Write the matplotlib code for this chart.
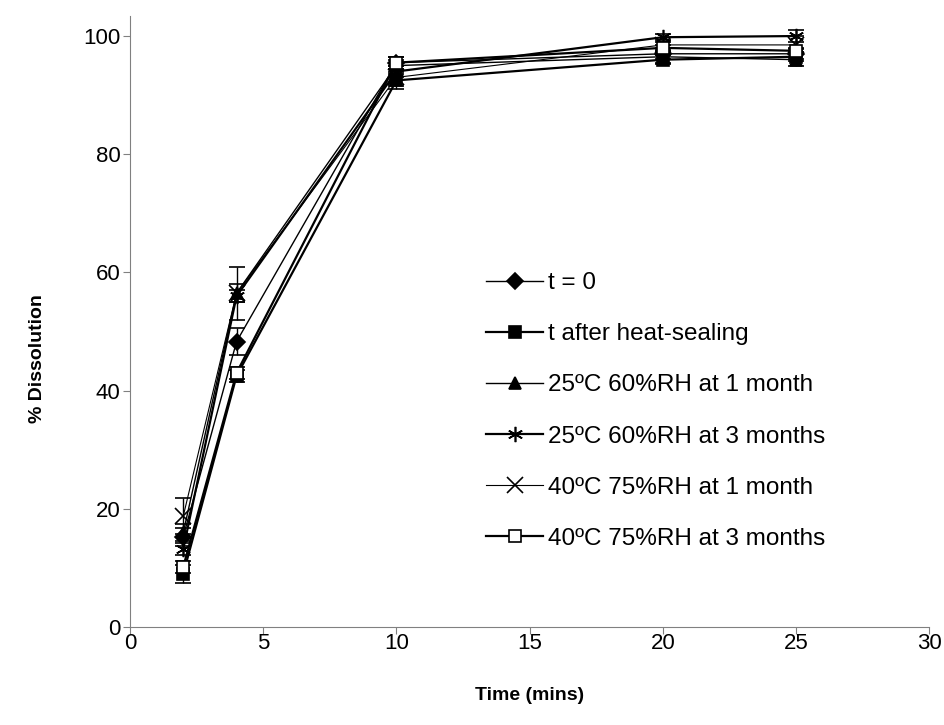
import matplotlib
matplotlib.use('Agg')
import matplotlib.pyplot as plt

plt.rcParams['font.family'] = ['Liberation Sans', 'DejaVu Sans']

time = [2, 4, 10, 20, 25]

labels = ['t = 0', 't after heat-sealing', '25ºC 60%RH at 1 month',
          '25ºC 60%RH at 3 months', '40ºC 75%RH at 1 month', '40ºC 75%RH at 3 months']

t0 = [15.3, 48.3, 95.5, 97.0, 97.0]
heat = [9.0, 42.5, 92.5, 96.0, 96.5]
m1_25 = [16.0, 56.5, 95.0, 96.5, 96.0]
m3_25 = [13.2, 56.0, 94.0, 99.8, 100.0]
m1_40 = [18.8, 56.5, 93.0, 98.5, 98.5]
m3_40 = [10.2, 43.0, 95.5, 98.0, 97.5]

err_t0 = [1.5, 2.3, 1.0, 0.8, 0.8]
err_heat = [1.5, 1.0, 1.0, 0.8, 0.8]
err_m1_25 = [1.5, 4.5, 1.0, 1.0, 1.0]
err_m3_25 = [1.0, 1.0, 1.0, 0.5, 1.0]
err_m1_40 = [3.0, 1.5, 2.0, 0.5, 1.5]
err_m3_40 = [1.0, 1.0, 1.0, 0.5, 0.5]

series = [t0, heat, m1_25, m3_25, m1_40, m3_40]
errors = [err_t0, err_heat, err_m1_25, err_m3_25, err_m1_40, err_m3_40]
markers = ['D', 's', '^', (6, 2, 0), 'x', 's']
faces = ['black', 'black', 'black', 'black', 'black', 'white']
widths = [1.0, 1.6, 1.0, 1.6, 0.8, 1.6]
sizes = [8, 9, 9, 11, 11, 9]

fig = plt.figure(figsize=(9.44, 7.25), dpi=100)
ax = fig.add_axes([0.1377, 0.135, 0.8466, 0.843])

for y, e, m, fc, lw, ms, lab in zip(series, errors, markers, faces, widths, sizes, labels):
    ax.errorbar(time, y, yerr=e, color='black', lw=lw, marker=m, ms=ms,
                mfc=fc, mec='black', mew=1.2, capsize=6, elinewidth=1.0,
                capthick=1.0, label=lab)

ax.set_xlim(0, 30)
ax.set_ylim(0, 103.4)
ax.set_xticks([0, 5, 10, 15, 20, 25, 30])
ax.set_yticks([0, 20, 40, 60, 80, 100])
ax.tick_params(axis='both', labelsize=16, direction='out', length=5, color='#808080', pad=2)
ax.tick_params(axis='x', pad=-1)
for s in ['top', 'right']:
    ax.spines[s].set_visible(False)
for s in ['left', 'bottom']:
    ax.spines[s].set_color('#808080')

ax.set_xlabel('Time (mins)', fontsize=14, fontweight='bold', labelpad=24)
ax.set_ylabel('% Dissolution', fontsize=14, fontweight='bold')
ax.yaxis.set_label_coords(-0.1045, 0.44)

handles, labs = ax.get_legend_handles_labels()
handles = [h[0] for h in handles]
ax.legend(handles, labs, loc='upper left', bbox_to_anchor=(0.5148, 0.6248),
          bbox_transform=fig.transFigure, frameon=False, fontsize=17.5,
          borderpad=0, borderaxespad=0,
          handlelength=2.35, handletextpad=0.2, labelspacing=1.2)

plt.savefig('out.png', dpi=100)
